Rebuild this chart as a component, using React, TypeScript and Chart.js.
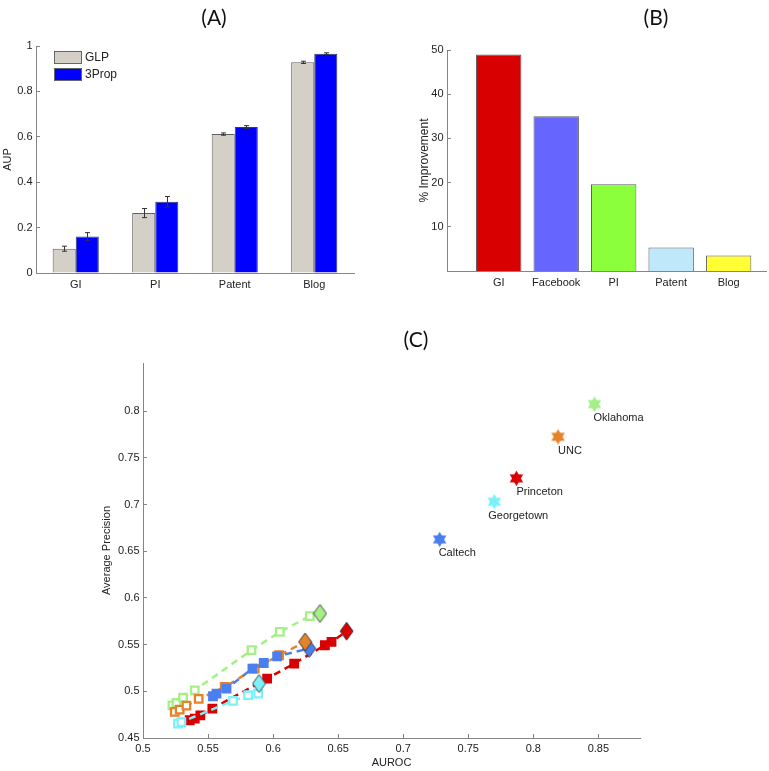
import React, { useEffect, useRef } from 'react';
import { Chart, registerables } from 'chart.js';

Chart.register(...registerables);

// ---------- Panel A data ----------
const categoriesA = ['GI', 'PI', 'Patent', 'Blog'];
const glpValues = [0.107, 0.264, 0.612, 0.928];
const glpErrors = [0.011, 0.02, 0.005, 0.005];
const threePropValues = [0.161, 0.314, 0.643, 0.966];
const threePropErrors = [0.017, 0.023, 0.006, 0.004];
const yTicksA = [0, 0.2, 0.4, 0.6, 0.8, 1];

// ---------- Panel B data ----------
const categoriesB = ['GI', 'Facebook', 'PI', 'Patent', 'Blog'];
const improvementValues = [49.0, 35.0, 19.6, 5.3, 3.5];
const xTicksB = [1, 2, 3, 4, 5];
const yTicksB = [10, 20, 30, 40, 50];

// ---------- Panel C data ----------
const schools = ['Caltech', 'Georgetown', 'Princeton', 'UNC', 'Oklahoma'];
const starAuroc = [0.728, 0.77, 0.787, 0.819, 0.847];
const starAp = [0.6626, 0.703, 0.728, 0.7725, 0.8075];
const diamondAuroc = [0.6277, 0.5892, 0.6565, 0.6246, 0.636];
const diamondAp = [0.5458, 0.5083, 0.5643, 0.5529, 0.5833];

const caltechAuroc = [0.5538, 0.5565, 0.5642, 0.5841, 0.5928, 0.6031];
const caltechAp = [0.4947, 0.4976, 0.5029, 0.5243, 0.5303, 0.5375];
const georgetownAuroc = [0.5269, 0.5295, 0.5692, 0.5808, 0.5885];
const georgetownAp = [0.4654, 0.4671, 0.4897, 0.4958, 0.4976];
const princetonAuroc = [0.5359, 0.5398, 0.5441, 0.5533, 0.5954, 0.6162, 0.6398, 0.6449];
const princetonAp = [0.469, 0.4708, 0.4743, 0.4815, 0.5136, 0.5297, 0.5493, 0.5529];
const uncAuroc = [0.5244, 0.5282, 0.5334, 0.5428, 0.5628, 0.5859, 0.6046];
const uncAp = [0.4779, 0.4804, 0.4847, 0.4918, 0.5046, 0.5243, 0.5386];
const oklahomaAuroc = [0.5226, 0.5257, 0.5308, 0.5398, 0.5834, 0.6052, 0.6282];
const oklahomaAp = [0.485, 0.4875, 0.4933, 0.5011, 0.544, 0.5636, 0.5804];

const xTicksC = [0.5, 0.55, 0.6, 0.65, 0.7, 0.75, 0.8, 0.85];
const yTicksC = [0.45, 0.5, 0.55, 0.6, 0.65, 0.7, 0.75, 0.8];

const squareAuroc = [caltechAuroc, georgetownAuroc, princetonAuroc, uncAuroc, oklahomaAuroc];
const squareAp = [caltechAp, georgetownAp, princetonAp, uncAp, oklahomaAp];

// ---------- styles ----------
const AXIS_COLOR = '#858585';
const TEXT = '#222222';
const FONT = "'Liberation Sans', Arial, sans-serif";
const schoolColors = ['#4b7ff0', '#7ef0fa', '#d80000', '#e4832a', '#a4f087'];
const squareFill = ['#4b7ff0', '#ffffff', '#d80000', '#ffffff', '#ffffff'];
const barColorsB = ['#d80000', '#6666ff', '#8cff3c', '#bfe8fb', '#ffff33'];
const starLabelDx = [-1, -6, 0, 0, -1];

const fmt = (v: number) => String(Number(Number(v).toFixed(2)));

function makeStar(color: string) {
  const c = document.createElement('canvas');
  c.width = 17;
  c.height = 17;
  const ctx = c.getContext('2d')!;
  const cx = 8.5, cy = 8.5, R = 7.8;
  ctx.fillStyle = color;
  [-90, 90].forEach((start) => {
    ctx.beginPath();
    for (let k = 0; k < 3; k++) {
      const a = ((start + k * 120) * Math.PI) / 180;
      const px = cx + R * Math.cos(a), py = cy + R * Math.sin(a);
      if (k === 0) ctx.moveTo(px, py); else ctx.lineTo(px, py);
    }
    ctx.closePath();
    ctx.fill();
  });
  return c;
}

function makeDiamond(color: string) {
  const c = document.createElement('canvas');
  c.width = 15;
  c.height = 20;
  const ctx = c.getContext('2d')!;
  ctx.beginPath();
  ctx.moveTo(7.5, 1);
  ctx.lineTo(14, 10);
  ctx.lineTo(7.5, 19);
  ctx.lineTo(1, 10);
  ctx.closePath();
  ctx.fillStyle = color;
  ctx.fill();
  ctx.strokeStyle = '#333333';
  ctx.lineWidth = 0.9;
  ctx.stroke();
  return c;
}

function yAxis(min: number, max: number, ticksArr: number[], title: string, padTop: number, width: number, titleSize = 11) {
  return {
    type: 'linear',
    position: 'left',
    min,
    max,
    afterBuildTicks: (s: any) => { s.ticks = ticksArr.map((v) => ({ value: v })); },
    afterFit: (s: any) => { s.width = width; },
    ticks: { color: TEXT, font: { family: FONT, size: 11 }, padding: 7.5, callback: (v: any) => fmt(v) },
    grid: { drawOnChartArea: false, tickLength: -4, color: AXIS_COLOR },
    border: { color: AXIS_COLOR, width: 1 },
    title: { display: true, text: title, color: TEXT, font: { family: FONT, size: titleSize }, padding: { top: padTop, bottom: 0 } },
  };
}

const errorBarPlugin = {
  id: 'errorBars',
  afterDatasetsDraw(chart: any) {
    const ctx = chart.ctx;
    const y = chart.scales.y;
    chart.data.datasets.forEach((ds: any, i: number) => {
      const meta = chart.getDatasetMeta(i);
      meta.data.forEach((bar: any, j: number) => {
        const v = ds.data[j];
        const e = ds.errors[j];
        const yt = y.getPixelForValue(v + e);
        const yb = y.getPixelForValue(v - e);
        const x = Math.round(bar.x) + 0.5;
        ctx.save();
        ctx.strokeStyle = '#333333';
        ctx.lineWidth = 1;
        ctx.beginPath();
        ctx.moveTo(x, yt); ctx.lineTo(x, yb);
        ctx.moveTo(x - 2.5, yt); ctx.lineTo(x + 2.5, yt);
        ctx.moveTo(x - 2.5, yb); ctx.lineTo(x + 2.5, yb);
        ctx.stroke();
        ctx.restore();
      });
    });
  },
};

const legendAPlugin = {
  id: 'legendA',
  afterDraw(chart: any) {
    const ctx = chart.ctx;
    const { left, top } = chart.chartArea;
    chart.data.datasets.forEach((ds: any, i: number) => {
      const bx = left + 18, by = top + 5 + i * 17;
      ctx.save();
      ctx.fillStyle = ds.backgroundColor;
      ctx.fillRect(bx, by, 28, 13);
      ctx.strokeStyle = '#666666';
      ctx.lineWidth = 1;
      ctx.strokeRect(bx + 0.5, by + 0.5, 27, 12);
      ctx.fillStyle = TEXT;
      ctx.font = `12px ${FONT}`;
      ctx.textBaseline = 'middle';
      ctx.textAlign = 'left';
      ctx.fillText(ds.label, bx + 31, by + 7);
      ctx.restore();
    });
  },
};

const starLabelPlugin = {
  id: 'starLabels',
  afterDatasetsDraw(chart: any) {
    const ctx = chart.ctx;
    const xs = chart.scales.x, ys = chart.scales.y;
    ctx.save();
    ctx.fillStyle = TEXT;
    ctx.font = `11px ${FONT}`;
    ctx.textBaseline = 'middle';
    ctx.textAlign = 'left';
    schools.forEach((name, i) => {
      ctx.fillText(name, xs.getPixelForValue(starAuroc[i]) + starLabelDx[i], ys.getPixelForValue(starAp[i]) + 14);
    });
    ctx.restore();
  },
};

function configA(): any {
  return {
    type: 'bar',
    data: {
      labels: categoriesA,
      datasets: [
        { label: 'GLP', data: glpValues, errors: glpErrors, backgroundColor: '#d4d0c8', borderColor: '#5e5e5e', borderWidth: 1 },
        { label: '3Prop', data: threePropValues, errors: threePropErrors, backgroundColor: '#0000ff', borderColor: '#3a3a5a', borderWidth: 1 },
      ],
    },
    options: {
      responsive: false,
      animation: false,
      events: [],
      categoryPercentage: 0.58,
      barPercentage: 1.0,
      layout: { padding: { left: 0, top: 46, right: 30, bottom: 0 } },
      plugins: { legend: { display: false }, tooltip: { enabled: false } },
      scales: {
        x: {
          afterFit: (s: any) => { s.height = 27; },
          ticks: { color: TEXT, font: { family: FONT, size: 11 }, padding: 5 },
          grid: { display: false, drawTicks: false },
          border: { color: AXIS_COLOR, width: 1 },
        },
        y: yAxis(0, 1, yTicksA, 'AUP', 1, 36),
      },
    },
    plugins: [errorBarPlugin, legendAPlugin],
  };
}

function configB(): any {
  return {
    type: 'bar',
    data: {
      datasets: [
        {
          label: '% Improvement',
          data: categoriesB.map((_, i) => ({ x: xTicksB[i], y: improvementValues[i] })),
          backgroundColor: barColorsB,
          borderColor: '#5e5e5e',
          borderWidth: 1,
        },
      ],
    },
    options: {
      responsive: false,
      animation: false,
      events: [],
      categoryPercentage: 1.0,
      barPercentage: 0.79,
      layout: { padding: { left: 0, top: 50, right: 3, bottom: 0 } },
      plugins: { legend: { display: false }, tooltip: { enabled: false } },
      scales: {
        x: {
          type: 'linear',
          offset: false,
          min: 0.1,
          max: 5.65,
          afterBuildTicks: (s: any) => { s.ticks = xTicksB.map((v) => ({ value: v })); },
          afterFit: (s: any) => { s.height = 29; },
          ticks: { color: TEXT, font: { family: FONT, size: 11 }, padding: 5, callback: (v: any) => categoriesB[Math.round(v) - 1] },
          grid: { display: false, drawTicks: false, offset: false },
          border: { color: AXIS_COLOR, width: 1 },
        },
        y: yAxis(0, 50, yTicksB, '% Improvement', 33, 63, 12),
      },
    },
  };
}

function configC(): any {
  const stars = schoolColors.map((c) => makeStar(c));
  const diamonds = schoolColors.map((c) => makeDiamond(c));
  const lineSets = schools.map((name, k) => {
    const pts = squareAuroc[k].map((x, i) => ({ x, y: squareAp[k][i] }));
    pts.push({ x: diamondAuroc[k], y: diamondAp[k] });
    const n = squareAuroc[k].length;
    return {
      label: name + ' path',
      data: pts,
      showLine: true,
      borderColor: schoolColors[k],
      borderWidth: 2.5,
      borderDash: [7, 5],
      pointStyle: 'rect',
      pointRadius: (ctx: any) => (ctx.dataIndex >= n ? 0 : 5.3),
      pointBorderWidth: 2.3,
      pointBorderColor: schoolColors[k],
      pointBackgroundColor: squareFill[k],
      order: 10 + k,
    };
  });
  return {
    type: 'scatter',
    data: {
      datasets: [
        ...lineSets,
        {
          label: 'Final',
          data: diamondAuroc.map((x, i) => ({ x, y: diamondAp[i] })),
          pointStyle: diamonds,
          pointRadius: 8,
          order: 1,
        },
        {
          label: 'Schools',
          data: starAuroc.map((x, i) => ({ x, y: starAp[i] })),
          pointStyle: stars,
          pointRadius: 8,
          order: 0,
        },
      ],
    },
    options: {
      responsive: false,
      animation: false,
      events: [],
      layout: { padding: { left: 100, top: 43, right: 129, bottom: 0 } },
      plugins: { legend: { display: false }, tooltip: { enabled: false } },
      elements: { line: { tension: 0 } },
      scales: {
        x: {
          type: 'linear',
          min: 0.5,
          max: 0.882,
          afterBuildTicks: (s: any) => { s.ticks = xTicksC.map((v) => ({ value: v })); },
          afterFit: (s: any) => { s.height = 33; },
          ticks: { color: TEXT, font: { family: FONT, size: 11 }, padding: 8, callback: (v: any) => fmt(v) },
          grid: { drawOnChartArea: false, tickLength: -4, color: AXIS_COLOR },
          border: { color: AXIS_COLOR, width: 1 },
          title: { display: true, text: 'AUROC', color: TEXT, font: { family: FONT, size: 11 }, padding: { top: 0, bottom: 1.4 } },
        },
        y: yAxis(0.45, 0.8515, yTicksC, 'Average Precision', 0, 43),
      },
    },
    plugins: [starLabelPlugin],
  };
}

const titleStyle = (x: number, y: number): React.CSSProperties => ({
  position: 'absolute',
  left: x,
  top: y,
  transform: 'translate(-50%, -50%)',
  fontFamily: "Lato, 'Open Sans', sans-serif",
  fontSize: 21,
  lineHeight: 1,
  color: '#111111',
  whiteSpace: 'nowrap',
});

export default function App() {
  const refA = useRef<HTMLCanvasElement>(null);
  const refB = useRef<HTMLCanvasElement>(null);
  const refC = useRef<HTMLCanvasElement>(null);

  useEffect(() => {
    const charts = [
      new Chart(refA.current!, configA()),
      new Chart(refB.current!, configB()),
      new Chart(refC.current!, configC()),
    ];
    return () => charts.forEach((c) => c.destroy());
  }, []);

  return (
    <div style={{ position: 'fixed', left: 0, top: 0, width: 769, height: 771, background: '#ffffff', overflow: 'hidden' }}>
      <canvas ref={refA} width={384} height={300} style={{ position: 'absolute', left: 0, top: 0, display: 'block' }} />
      <canvas ref={refB} width={385} height={300} style={{ position: 'absolute', left: 384, top: 0, display: 'block' }} />
      <canvas ref={refC} width={769} height={451} style={{ position: 'absolute', left: 0, top: 320, display: 'block' }} />
      <div style={titleStyle(214, 16)}>(A)</div>
      <div style={titleStyle(656, 16)}>(B)</div>
      <div style={titleStyle(416, 338)}>(C)</div>
    </div>
  );
}
